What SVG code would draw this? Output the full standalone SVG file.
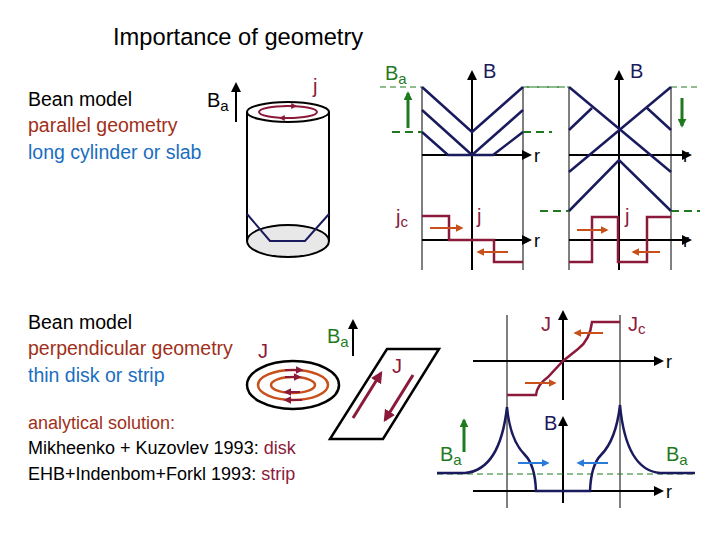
<svg xmlns="http://www.w3.org/2000/svg" width="720" height="540" viewBox="0 0 720 540">
<defs>
<marker id="ak" viewBox="0 0 10 10" refX="8" refY="5" markerWidth="5" markerHeight="5" orient="auto"><path d="M0,0L10,5L0,10z" fill="#000"/></marker>
<marker id="ag" viewBox="0 0 10 10" refX="8" refY="5" markerWidth="3" markerHeight="3" orient="auto"><path d="M0,0L10,5L0,10z" fill="#1f7a1f"/></marker>
<marker id="ar" viewBox="0 0 10 10" refX="8" refY="5" markerWidth="4" markerHeight="4" orient="auto"><path d="M0,0L10,5L0,10z" fill="#8b1a3a"/></marker>
<marker id="ao" viewBox="0 0 10 10" refX="8" refY="5" markerWidth="4" markerHeight="4" orient="auto"><path d="M0,0L10,5L0,10z" fill="#c8501a"/></marker>
<marker id="ab" viewBox="0 0 10 10" refX="8" refY="5" markerWidth="4" markerHeight="4" orient="auto"><path d="M0,0L10,5L0,10z" fill="#2a7ad8"/></marker>
</defs>
<style>
text{font-family:"Liberation Sans",Arial,sans-serif}
.k{fill:#000}.bl{fill:#1a6ec0}.rd{fill:#8b1a3a}.gn{fill:#1f7a1f}.nv{fill:#1a1a5e}
.ax{stroke:#000;stroke-width:2;fill:none;marker-end:url(#ak)}
.thin{stroke:#000;stroke-width:1;fill:none}
.bv{stroke:#1a1a5e;stroke-width:2.5;fill:none}
.rc{stroke:#8b1a3a;stroke-width:2.5;fill:none}
.gd{stroke:#1f7a1f;stroke-width:1;stroke-dasharray:6,4;fill:none}
.gd2{stroke:#1f7a1f;stroke-width:2;stroke-dasharray:8,5;fill:none}
.ga{stroke:#1f7a1f;stroke-width:3;marker-end:url(#ag)}
.ra{stroke:#8b1a3a;stroke-width:3;marker-end:url(#ar)}
.oa{stroke:#c8501a;stroke-width:2;marker-end:url(#ao)}
.ba{stroke:#2a7ad8;stroke-width:2;marker-end:url(#ab)}
</style>
<g id="texts">
<text x="113" y="45" font-size="23.7" class="k">Importance of geometry</text>
<text x="28" y="106" font-size="19.5" class="k">Bean model</text>
<text x="28" y="132" font-size="19.5" style="fill:#a0301a">parallel geometry</text>
<text x="28" y="159" font-size="19.5" class="bl">long cylinder or slab</text>
<text x="207" y="107" font-size="20" class="k">B<tspan font-size="15" dy="4">a</tspan></text>
<text x="28" y="329" font-size="19.5" class="k">Bean model</text>
<text x="28" y="355" font-size="19.5" style="fill:#a0301a">perpendicular geometry</text>
<text x="28" y="382" font-size="19.5" class="bl">thin disk or strip</text>
<text x="28" y="429" font-size="18" style="fill:#a0301a">analytical solution:</text>
<text x="28" y="454" font-size="18" class="k">Mikheenko + Kuzovlev 1993:  <tspan class="rd">disk</tspan></text>
<text x="28" y="480" font-size="18" class="k">EHB+Indenbom+Forkl 1993:  <tspan class="rd">strip</tspan></text>
</g>
<g id="cylinder">
<ellipse cx="288" cy="241" rx="41" ry="16" fill="#e8e8e8" stroke="#000" stroke-width="2"/>
<line x1="247" y1="112" x2="247" y2="241" stroke="#000" stroke-width="2"/>
<line x1="329" y1="112" x2="329" y2="241" stroke="#000" stroke-width="2"/>
<ellipse cx="288" cy="112" rx="41" ry="10" fill="#fff" stroke="#000" stroke-width="2"/>
<ellipse cx="288" cy="112" rx="29" ry="6" fill="none" stroke="#8b1a3a" stroke-width="2"/>
<line x1="284" y1="106" x2="296" y2="106" class="ra" style="stroke-width:1.5"/>
<line x1="292" y1="118" x2="280" y2="118" class="ra" style="stroke-width:1.5"/>
<polyline points="247,214 270,241 305,241 329,214" class="bv" style="stroke-width:2"/>
<line x1="236" y1="122" x2="236" y2="84" class="ax"/>
<text x="313" y="93" font-size="20" class="rd">j</text>
</g>
<g id="plot1">
<line x1="422" y1="87" x2="422" y2="270" class="thin"/>
<line x1="523" y1="87" x2="523" y2="270" class="thin"/>
<line x1="472" y1="270" x2="472" y2="72" class="ax"/>
<line x1="422" y1="155" x2="530" y2="155" class="ax"/>
<line x1="422" y1="240" x2="530" y2="240" class="ax"/>
<line x1="380" y1="87" x2="422" y2="87" class="gd"/>
<line x1="523" y1="87" x2="565" y2="87" class="gd"/>
<line x1="392" y1="132" x2="422" y2="132" class="gd2"/>
<line x1="523" y1="132" x2="552" y2="132" class="gd2"/>
<polyline points="422,87 472,132 523,87" class="bv"/>
<polyline points="422,110 472,155 523,110" class="bv"/>
<polyline points="422,132 448,155 493,155 523,132" class="bv"/>
<line x1="408" y1="128" x2="408" y2="93" class="ga"/>
<polyline points="422,216 449,216 449,240 494,240 494,262 523,262" class="rc"/>
<line x1="430" y1="228" x2="462" y2="228" class="oa"/>
<line x1="508" y1="252" x2="478" y2="252" class="oa"/>
<text x="385" y="80" font-size="20" class="gn">B<tspan font-size="15" dy="4">a</tspan></text>
<text x="483" y="78" font-size="20" class="nv">B</text>
<text x="534" y="162" font-size="18" class="k">r</text>
<text x="534" y="247" font-size="18" class="k">r</text>
<text x="396" y="224" font-size="20" class="rd">j<tspan font-size="15" dy="3">c</tspan></text>
<text x="477" y="223" font-size="20" class="rd">j</text>
</g>
<g id="plot2">
<line x1="569" y1="87" x2="569" y2="270" class="thin"/>
<line x1="671" y1="87" x2="671" y2="270" class="thin"/>
<line x1="619" y1="270" x2="619" y2="72" class="ax"/>
<line x1="569" y1="155" x2="690" y2="155" class="ax"/>
<line x1="569" y1="240" x2="690" y2="240" class="ax"/>
<line x1="527" y1="87" x2="569" y2="87" class="gd"/>
<line x1="671" y1="87" x2="700" y2="87" class="gd"/>
<line x1="540" y1="211" x2="569" y2="211" class="gd2"/>
<line x1="671" y1="211" x2="700" y2="211" class="gd2"/>
<line x1="569" y1="87" x2="671" y2="172" class="bv"/>
<line x1="671" y1="87" x2="569" y2="172" class="bv"/>
<line x1="569" y1="130" x2="592" y2="108" class="bv"/>
<line x1="647" y1="108" x2="671" y2="130" class="bv"/>
<polyline points="569,211 619,160 671,211" class="bv"/>
<line x1="682" y1="98" x2="682" y2="126" class="ga"/>
<polyline points="569,262 592,262 592,217 618,217 618,262 647,262 647,217 671,217" class="rc"/>
<line x1="577" y1="230" x2="607" y2="230" class="oa"/>
<line x1="660" y1="252" x2="633" y2="252" class="oa"/>
<text x="630" y="78" font-size="20" class="nv">B</text>
<text x="683" y="162" font-size="18" class="k">r</text>
<text x="683" y="247" font-size="18" class="k">r</text>
<text x="625" y="223" font-size="20" class="rd">j</text>
</g>
<g id="disk">
<ellipse cx="293" cy="385" rx="46" ry="24" fill="none" stroke="#000" stroke-width="2.5"/>
<ellipse cx="293" cy="385" rx="35" ry="15" fill="none" stroke="#c8501a" stroke-width="2.5"/>
<ellipse cx="293" cy="385" rx="22" ry="8" fill="none" stroke="#c8501a" stroke-width="2.5"/>
<line x1="285" y1="370" x2="302" y2="370" class="ra" style="stroke-width:2"/>
<line x1="285" y1="377" x2="300" y2="377" class="ra" style="stroke-width:2"/>
<line x1="300" y1="392" x2="285" y2="392" class="ra" style="stroke-width:2"/>
<line x1="302" y1="400" x2="285" y2="400" class="ra" style="stroke-width:2"/>
<text x="258" y="358" font-size="20" class="rd">J</text>
</g>
<g id="strip">
<polygon points="387,349 439,349 383,439 330,439" fill="none" stroke="#000" stroke-width="2.5"/>
<line x1="353" y1="418" x2="381" y2="373" class="ra"/>
<line x1="413" y1="375" x2="385" y2="420" class="ra"/>
<text x="392" y="373" font-size="20" class="rd">J</text>
<line x1="353" y1="356" x2="353" y2="321" class="ax"/>
<text x="327" y="343" font-size="20" class="gn">B<tspan font-size="15" dy="4">a</tspan></text>
</g>
<g id="plot3">
<line x1="507" y1="315" x2="507" y2="508" class="thin"/>
<line x1="620" y1="315" x2="620" y2="508" class="thin"/>
<line x1="563" y1="400" x2="563" y2="312" class="ax"/>
<line x1="473" y1="361" x2="662" y2="361" class="ax"/>
<path d="M507,395 H536 Q537,385 548,377 L563,361 L578,349 Q590,340 592,322 H620" class="rc"/>
<line x1="603" y1="333" x2="575" y2="333" class="oa"/>
<line x1="525" y1="383" x2="555" y2="383" class="oa"/>
<text x="541" y="331" font-size="20" class="rd">J</text>
<text x="628" y="331" font-size="20" class="rd">J<tspan font-size="15" dy="3">c</tspan></text>
<text x="666" y="368" font-size="18" class="k">r</text>
<line x1="563" y1="503" x2="563" y2="418" class="ax"/>
<line x1="473" y1="491" x2="662" y2="491" class="ax"/>
<line x1="437" y1="474" x2="695" y2="474" class="gd"/>
<path d="M437,473 H465 Q500,470 507,407 Q510,440 525,455 Q535,465 536,491 H590 Q591,465 601,455 Q616,440 620,405 Q626,470 660,473 H695" class="bv"/>
<line x1="464" y1="452" x2="464" y2="420" class="ga"/>
<line x1="518" y1="463" x2="548" y2="463" class="ba"/>
<line x1="608" y1="463" x2="578" y2="463" class="ba"/>
<text x="544" y="430" font-size="20" class="nv">B</text>
<text x="440" y="461" font-size="20" class="gn">B<tspan font-size="15" dy="4">a</tspan></text>
<text x="666" y="461" font-size="20" class="gn">B<tspan font-size="15" dy="4">a</tspan></text>
<text x="666" y="498" font-size="18" class="k">r</text>
</g>
</svg>
